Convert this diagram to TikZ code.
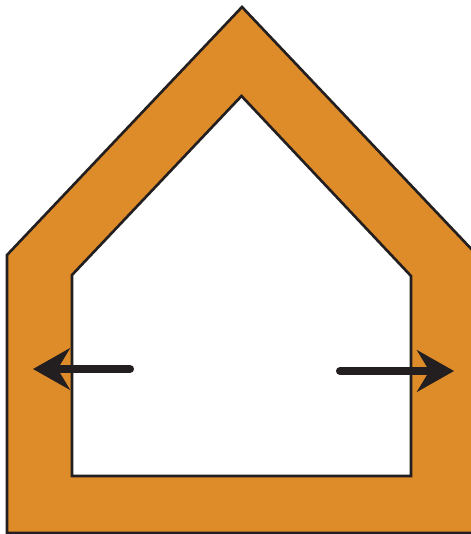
\documentclass[tikz,border=0pt]{standalone}
\usepackage{tikz}
\usetikzlibrary{arrows.meta}

\definecolor{wallorange}{RGB}{222,139,41}
\definecolor{inkdark}{RGB}{35,31,32}

\begin{document}
\begin{tikzpicture}[x=0.01cm,y=-0.01cm,
 wall/.style={fill=wallorange,draw=inkdark,line width=0.75pt,line join=miter,even odd rule},
 heatflow/.style={draw=inkdark,line width=2.3pt,line cap=round,-{Stealth[length=10.5pt,width=11.8pt,inset=3.5pt]}}
]
% canvas
\useasboundingbox (0,0) rectangle (471,534);
\clip (0,0) rectangle (471,534);
% house wall: outer outline and the room inside
\draw[wall] (7,255) -- (242,7) -- (477,255) -- (477,533) -- (7,533) -- cycle
 (72,275) -- (241.5,96) -- (411,276) -- (411,476) -- (72,476) -- cycle;
% heat going out through the walls
\coordinate (leftstart) at (130,369);
\coordinate (leftend) at (33,369);
\coordinate (rightstart) at (340,371);
\coordinate (rightend) at (454,371);
\draw[heatflow] (leftstart) -- (leftend);
\draw[heatflow] (rightstart) -- (rightend);
\end{tikzpicture}
\end{document}
